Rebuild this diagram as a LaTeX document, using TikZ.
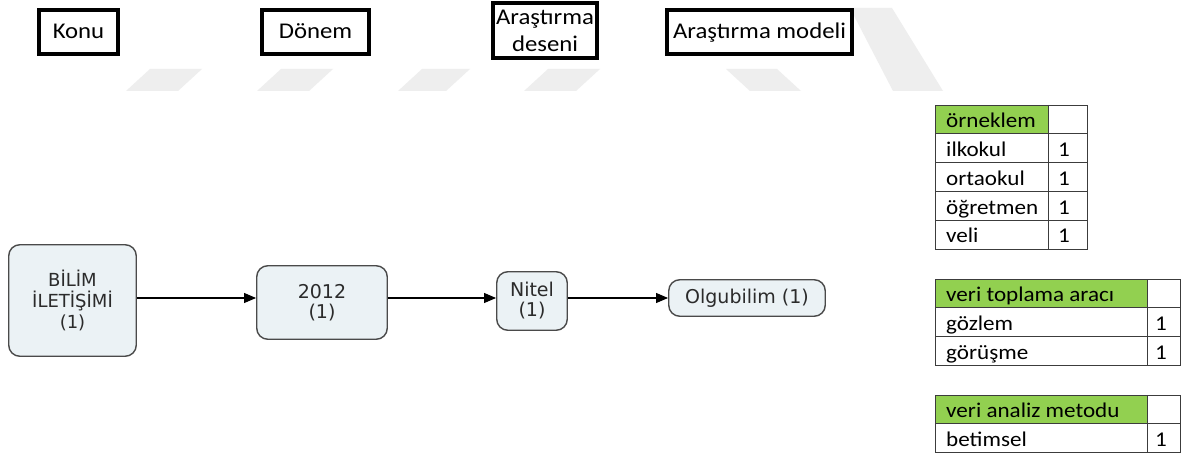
\documentclass[tikz,border=0pt]{standalone}
\usepackage{fontspec}
\setmainfont{DejaVu Sans}
\newfontfamily\calib[FakeStretch=1.1]{Carlito}
\newfontfamily\verd{DejaVu Sans}
\usetikzlibrary{arrows.meta}
\definecolor{wm}{HTML}{EEEEEE}
\definecolor{boxfill}{HTML}{EBF2F5}
\definecolor{boxline}{HTML}{4A4A4A}
\definecolor{txtgray}{HTML}{2B2B2B}
\definecolor{xlgreen}{HTML}{92D050}
\definecolor{gridc}{HTML}{3C3C3C}
\begin{document}
\begin{tikzpicture}[x=1pt,y=-1pt,
  hdr/.style={draw=black, line width=4pt, fill=white, inner sep=0pt, align=center, font=\calib\fontsize{22.5}{27}\selectfont},
  flow/.style={draw=boxline, line width=1.4pt, fill=boxfill, rounded corners=11pt, inner sep=0pt, align=center, text=txtgray, font=\verd\fontsize{19}{20}\selectfont},
  arr/.style={draw=black, line width=1.1pt, -{Triangle[length=12pt,width=10pt]}},
  wmark/.style={fill=wm, draw=none},
  cellline/.style={draw=gridc, line width=0.9pt},
  celltxt/.style={anchor=base west, inner sep=0pt, font=\calib\fontsize{21}{24}\selectfont, text=black},
]
\useasboundingbox (0,0) rectangle (1185,454);
\fill[white] (0,0) rectangle (1185,454);

% watermark
\fill[wmark] (150,69) -- (202,69) -- (178,91) -- (126,91) -- cycle;
\fill[wmark] (281,69) -- (333,69) -- (309,91) -- (257,91) -- cycle;
\fill[wmark] (422,69) -- (470,69) -- (446,91) -- (398,91) -- cycle;
\fill[wmark] (548,69) -- (600,69) -- (576,91) -- (524,91) -- cycle;
\fill[wmark] (726,69) -- (777,69) -- (801,91) -- (750,91) -- cycle;
\fill[wmark] (850,8) -- (892,8) -- (943,91) -- (893,91) -- cycle;

% header boxes
\node[hdr, minimum width=79pt, minimum height=44pt, text height=14pt, text depth=0pt] (konu) at (78.5,32) {Konu};
\node[hdr, minimum width=107pt, minimum height=44pt, text height=14pt, text depth=0pt] (donem) at (315.5,32) {Dönem};
\node[hdr, minimum width=104pt, minimum height=55pt] (desen) at (545,30.5) {Araştırma\\deseni};
\node[hdr, minimum width=185pt, minimum height=44pt, text height=14pt, text depth=0pt] (model) at (759.5,32) {Araştırma modeli};

% flow boxes
\node[flow, minimum width=127.5pt, minimum height=111.5pt,
      font=\verd\fontsize{18}{21}\selectfont] (bilim) at (72.5,300.5) {BİLİM\\İLETİŞİMİ\\(1)};
\node[flow, minimum width=130.5pt, minimum height=73.5pt] (yil) at (322,302.5) {2012\\(1)};
\node[flow, minimum width=70.5pt, minimum height=58.5pt] (nitel) at (532,301) {Nitel\\(1)};
\node[flow, minimum width=156.5pt, minimum height=36.5pt] (olgu) at (747,298) {Olgubilim (1)};

\draw[arr] (bilim.east |- 0,298) -- (yil.west |- 0,298);
\draw[arr] (yil.east |- 0,298) -- (nitel.west |- 0,298);
\draw[arr] (nitel.east |- 0,298) -- (olgu.west |- 0,298);

% table 1: örneklem
\fill[xlgreen] (935,105) rectangle (1048,133.8);
\draw[cellline] (935,105) rectangle (1087,249);
\draw[cellline] (1048,105) -- (1048,249);
\foreach \y in {133.8,162.6,191.4,220.2} \draw[cellline] (935,\y) -- (1087,\y);
\node[celltxt] (t1h) at (946,127.8) {örneklem};
\node[celltxt] (t1a) at (946,156.6) {ilkokul};
\node[celltxt] (t1av) at (1058,156.6) {1};
\node[celltxt] (t1b) at (946,185.4) {ortaokul};
\node[celltxt] (t1bv) at (1058,185.4) {1};
\node[celltxt] (t1c) at (946,214.2) {öğretmen};
\node[celltxt] (t1cv) at (1058,214.2) {1};
\node[celltxt] (t1d) at (946,243) {veli};
\node[celltxt] (t1dv) at (1058,243) {1};

% table 2: veri toplama aracı
\fill[xlgreen] (935,279) rectangle (1147,307.7);
\draw[cellline] (935,279) rectangle (1180,365.1);
\draw[cellline] (1147,279) -- (1147,365.1);
\foreach \y in {307.7,336.4} \draw[cellline] (935,\y) -- (1180,\y);
\node[celltxt] (t2h) at (946,301.7) {veri toplama aracı};
\node[celltxt] (t2a) at (946,330.4) {gözlem};
\node[celltxt] (t2av) at (1155,330.4) {1};
\node[celltxt] (t2b) at (946,359.1) {görüşme};
\node[celltxt] (t2bv) at (1155,359.1) {1};

% table 3: veri analiz metodu
\fill[xlgreen] (935,395) rectangle (1147,423.5);
\draw[cellline] (935,395) rectangle (1180,452);
\draw[cellline] (1147,395) -- (1147,452);
\draw[cellline] (935,423.5) -- (1180,423.5);
\node[celltxt] (t3h) at (946,417.5) {veri analiz metodu};
\node[celltxt] (t3a) at (946,446) {betimsel};
\node[celltxt] (t3av) at (1155,446) {1};
\end{tikzpicture}
\end{document}
